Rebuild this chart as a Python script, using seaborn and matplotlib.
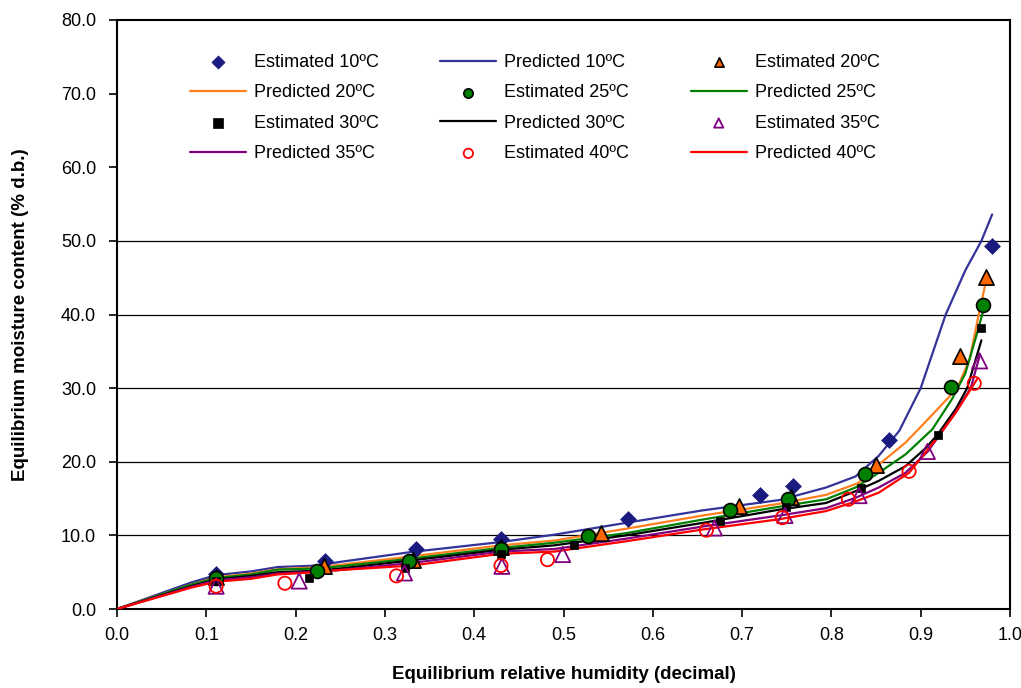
import numpy as np
import pandas as pd
import matplotlib
matplotlib.use("Agg")
import matplotlib.pyplot as plt
import seaborn as sns

# ---------------- data ----------------
# Estimated (experimental) points
est10_x = [0.111, 0.233, 0.335, 0.430, 0.572, 0.720, 0.757, 0.865, 0.9795]
est10_y = [4.8, 6.5, 8.1, 9.5, 12.2, 15.5, 16.7, 23.0, 49.3]
est20_x = [0.111, 0.2315, 0.331, 0.430, 0.542, 0.697, 0.755, 0.850, 0.9435, 0.973]
est20_y = [4.4, 5.8, 6.7, 8.4, 10.3, 14.05, 15.2, 19.5, 34.4, 45.1]
est25_x = [0.111, 0.2245, 0.327, 0.430, 0.527, 0.687, 0.751, 0.838, 0.9335, 0.970]
est25_y = [4.2, 5.1, 6.5, 8.2, 9.9, 13.5, 14.9, 18.4, 30.1, 41.3]
est30_x = [0.111, 0.215, 0.323, 0.430, 0.512, 0.675, 0.749, 0.833, 0.919, 0.967]
est30_y = [3.8, 4.2, 5.6, 7.5, 8.65, 12.0, 13.9, 16.5, 23.6, 38.1]
est35_x = [0.111, 0.204, 0.322, 0.431, 0.499, 0.669, 0.748, 0.831, 0.9075, 0.966]
est35_y = [3.1, 3.8, 4.9, 5.8, 7.4, 11.0, 12.7, 15.4, 21.4, 33.7]
est40_x = [0.111, 0.188, 0.313, 0.430, 0.482, 0.660, 0.745, 0.819, 0.887, 0.960]
est40_y = [3.1, 3.5, 4.5, 5.9, 6.7, 10.7, 12.4, 14.9, 18.7, 30.65]

# Predicted curves
pred10_x = [0, 0.083, 0.111, 0.15, 0.18, 0.224, 0.25, 0.33, 0.43, 0.49, 0.57, 0.656, 0.742,
            0.794, 0.827, 0.853, 0.876, 0.9, 0.928, 0.95, 0.968, 0.98]
pred10_y = [0, 3.6, 4.6, 5.1, 5.7, 5.9, 6.4, 7.75, 9.1, 10.1, 11.7, 13.4, 14.8,
            16.5, 18.0, 20.8, 24.2, 30.0, 40.0, 46.0, 50.0, 53.6]
pred20_x = [0, 0.083, 0.111, 0.15, 0.18, 0.224, 0.25, 0.33, 0.43, 0.49, 0.57, 0.656, 0.742,
            0.794, 0.83, 0.857, 0.883, 0.91, 0.941, 0.955, 0.965, 0.972]
pred20_y = [0, 3.3, 4.3, 4.8, 5.4, 5.65, 6.0, 7.15, 8.65, 9.3, 10.9, 12.7, 14.3,
            15.5, 17.1, 20.0, 22.6, 26.0, 30.0, 34.0, 40.0, 43.9]
pred25_x = [0, 0.083, 0.111, 0.15, 0.18, 0.224, 0.25, 0.33, 0.43, 0.49, 0.57, 0.656, 0.742,
            0.794, 0.827, 0.853, 0.883, 0.913, 0.935, 0.95, 0.962, 0.971]
pred25_y = [0, 3.3, 4.2, 4.7, 5.35, 5.5, 5.8, 6.85, 8.3, 9.0, 10.3, 12.15, 13.9,
            14.9, 16.5, 18.5, 21.0, 24.4, 28.5, 32.0, 37.0, 40.9]
pred30_x = [0, 0.083, 0.111, 0.15, 0.18, 0.224, 0.25, 0.33, 0.43, 0.49, 0.57, 0.656, 0.742,
            0.794, 0.827, 0.853, 0.883, 0.906, 0.919, 0.94, 0.952, 0.968]
pred30_y = [0, 3.1, 4.0, 4.5, 5.0, 5.2, 5.5, 6.6, 8.05, 8.65, 10.0, 11.7, 13.5,
            14.4, 16.0, 17.4, 19.4, 21.9, 23.7, 27.3, 30.0, 36.5]
pred35_x = [0, 0.083, 0.111, 0.15, 0.18, 0.224, 0.25, 0.33, 0.43, 0.49, 0.57, 0.656, 0.742,
            0.794, 0.827, 0.853, 0.883, 0.908, 0.935, 0.956, 0.966]
pred35_y = [0, 3.0, 3.9, 4.3, 4.8, 5.1, 5.3, 6.25, 7.8, 8.15, 9.55, 11.2, 12.7,
            13.7, 15.1, 16.5, 18.5, 21.4, 26.0, 30.0, 34.4]
pred40_x = [0, 0.083, 0.111, 0.15, 0.18, 0.224, 0.25, 0.33, 0.43, 0.49, 0.57, 0.656, 0.742,
            0.794, 0.827, 0.853, 0.887, 0.92, 0.94, 0.963]
pred40_y = [0, 2.9, 3.7, 4.1, 4.7, 5.0, 5.3, 5.9, 7.5, 7.8, 9.2, 10.8, 12.2,
            13.3, 14.6, 15.8, 18.5, 23.5, 26.8, 31.2]

temps = ["10", "20", "25", "30", "35", "40"]
y_ticks = [0, 10, 20, 30, 40, 50, 60, 70, 80]
x_ticks = [0.0, 0.1, 0.2, 0.3, 0.4, 0.5, 0.6, 0.7, 0.8, 0.9, 1.0]

# ---------------- style ----------------
sns.set_theme(style="white")
plt.rcParams['font.family'] = ['Liberation Sans', 'DejaVu Sans']
plt.rcParams['text.color'] = 'black'
plt.rcParams['axes.labelcolor'] = 'black'

fig = plt.figure(figsize=(10.21, 6.88), dpi=100)
ax = fig.add_axes([117/1021, 1-609/688, (1010-117)/1021, (609-20)/688])

line_colors = {"10": "#333399", "20": "#FF7F1F", "25": "#008000",
               "30": "#000000", "35": "#800080", "40": "#FF0000"}

est = {"10": (est10_x, est10_y), "20": (est20_x, est20_y), "25": (est25_x, est25_y),
       "30": (est30_x, est30_y), "35": (est35_x, est35_y), "40": (est40_x, est40_y)}
pred = {"10": (pred10_x, pred10_y), "20": (pred20_x, pred20_y), "25": (pred25_x, pred25_y),
        "30": (pred30_x, pred30_y), "35": (pred35_x, pred35_y), "40": (pred40_x, pred40_y)}

marker_style = {
    "10": dict(marker="D", s=65, color="#1A1A80", edgecolor="#1A1A80", linewidth=0.5),
    "20": dict(marker="^", s=120, color="#FF6600", edgecolor="black", linewidth=1.2),
    "25": dict(marker="o", s=100, color="#008000", edgecolor="black", linewidth=1.2),
    "30": dict(marker="s", s=34, color="black", edgecolor="black", linewidth=0.5),
    "35": dict(marker="^", s=120, facecolor="none", edgecolor="#800080", linewidth=1.3),
    "40": dict(marker="o", s=90, facecolor="none", edgecolor="#FF0000", linewidth=1.3),
}

# gridlines below data
for yv in y_ticks[1:-1]:
    ax.axhline(yv, color="black", linewidth=0.9, zorder=0)
# white legend background band (hides gridlines behind the legend)
ax.axhspan(58.7, 80, color="white", zorder=0.5, linewidth=0)

for t in temps:
    px, py = pred[t]
    dfp = pd.DataFrame({"x": px, "y": py})
    sns.lineplot(data=dfp, x="x", y="y", ax=ax, sort=False, estimator=None,
                 color=line_colors[t], linewidth=1.6, label=f"Predicted {t}ºC", zorder=3)
for t in temps:
    ex, ey = est[t]
    dfe = pd.DataFrame({"x": ex, "y": ey})
    sns.scatterplot(data=dfe, x="x", y="y", ax=ax, label=f"Estimated {t}ºC",
                    zorder=4, **marker_style[t])

h, l = ax.get_legend_handles_labels()
hd = dict(zip(l, h))
row_major = ["Estimated 10ºC", "Predicted 10ºC", "Estimated 20ºC",
             "Predicted 20ºC", "Estimated 25ºC", "Predicted 25ºC",
             "Estimated 30ºC", "Predicted 30ºC", "Estimated 35ºC",
             "Predicted 35ºC", "Estimated 40ºC", "Predicted 40ºC"]
ncol, nrow = 3, 4
col_major = [row_major[r * ncol + c] for c in range(ncol) for r in range(nrow)]
leg = ax.legend([hd[k] for k in col_major], col_major, ncol=3, frameon=False,
                loc="upper left", bbox_to_anchor=(190/1021, 1-54/688),
                bbox_transform=fig.transFigure, fontsize=13,
                handlelength=3.1, handletextpad=0.45, columnspacing=3.4,
                labelspacing=0.74, borderpad=0, borderaxespad=0, scatterpoints=1)
for lh in leg.legend_handles:
    if hasattr(lh, "set_sizes"):
        lh.set_sizes([45])
for txt in leg.get_texts():
    txt.set_color("black")

ax.set_xlim(0, 1.0)
ax.set_ylim(0, 80)
ax.set_xticks(x_ticks)
ax.set_xticklabels([f"{v:.1f}" for v in x_ticks])
ax.set_yticks(y_ticks)
ax.set_yticklabels([f"{v:.1f}" for v in y_ticks])
ax.tick_params(axis="both", direction="out", length=6, width=1.2, color="black",
               labelsize=13, labelcolor="black", bottom=True, left=True)
ax.tick_params(axis="y", pad=9)
ax.tick_params(axis="x", pad=7)
for side, sp in ax.spines.items():
    sp.set_visible(True)
    sp.set_color("black")
    sp.set_linewidth(1.5)
ax.set_xlabel("Equilibrium relative humidity (decimal)", fontsize=13.5,
              fontweight="bold", labelpad=16, color="black")
ax.set_ylabel("Equilibrium moisture content (% d.b.)", fontsize=13.5,
              fontweight="bold", labelpad=23, color="black")

fig.savefig("out.png", dpi=100)
